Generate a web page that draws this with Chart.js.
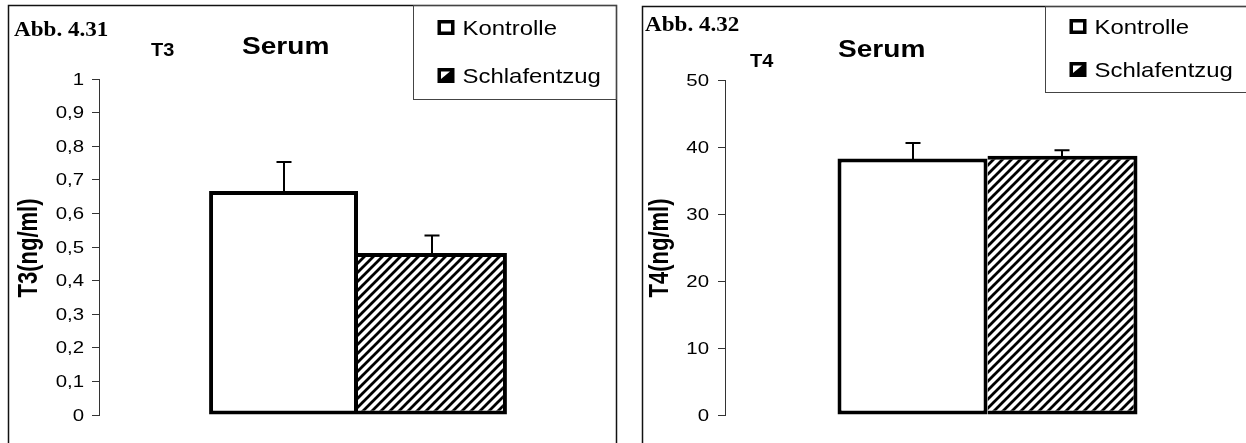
<!DOCTYPE html>
<html>
<head>
<meta charset="utf-8">
<script src="https://cdn.jsdelivr.net/npm/chart.js@4.4.1/dist/chart.umd.min.js"></script>
<style>
  html, body { margin: 0; padding: 0; background: #fff; overflow: hidden; width: 1246px; height: 443px; }
  canvas { position: absolute; top: 0; }
  #chartT3 { left: 0; }
  #chartT4 { left: 622px; }
</style>
</head>
<body>
<canvas id="chartT3" width="622" height="443"></canvas>
<canvas id="chartT4" width="630" height="443"></canvas>
<script>
// Groups compared in both panels
const groups = ['Kontrolle', 'Schlafentzug'];

// T3 in serum (ng/ml): mean and upper standard deviation per group
const t3Means = [0.667, 0.482];
const t3Sd = [0.086, 0.052];
const t3TickLabels = ['0', '0,1', '0,2', '0,3', '0,4', '0,5', '0,6', '0,7', '0,8', '0,9', '1'];

// T4 in serum (ng/ml)
const t4Means = [38.3, 38.7];
const t4Sd = [2.3, 0.8];
const t4TickLabels = ['0', '10', '20', '30', '40', '50'];

const SANS = '"Liberation Sans", Arial, sans-serif';
const SERIF = '"Liberation Serif", "Times New Roman", serif';

// Diagonal "/" hatching for the sleep-deprivation bars
function hatchPattern(ctx) {
  const s = 9;
  const c = document.createElement('canvas');
  c.width = s; c.height = s;
  const g = c.getContext('2d');
  g.fillStyle = '#fff';
  g.fillRect(0, 0, s, s);
  g.strokeStyle = '#000';
  g.lineWidth = 2.8;
  g.beginPath();
  g.moveTo(-2, s + 2); g.lineTo(s + 2, -2);
  g.moveTo(-2, 2); g.lineTo(2, -2);
  g.moveTo(s - 2, s + 2); g.lineTo(s + 2, s - 2);
  g.stroke();
  return ctx.createPattern(c, 'repeat');
}

// Text drawn with a horizontal stretch factor
function drawText(ctx, str, x, y, font, sx, align, baseline) {
  ctx.save();
  ctx.font = font;
  ctx.fillStyle = '#000';
  ctx.textAlign = align || 'left';
  ctx.textBaseline = baseline || 'alphabetic';
  ctx.translate(x, y);
  ctx.scale(sx, 1);
  ctx.fillText(str, 0, 0);
  ctx.restore();
}

// Upper error whiskers, read from each dataset's sd array
const errorBarPlugin = {
  id: 'errorBars',
  afterDatasetsDraw(chart) {
    const ctx = chart.ctx;
    const yScale = chart.scales.y;
    ctx.save();
    ctx.strokeStyle = '#000';
    ctx.lineWidth = 2;
    chart.data.datasets.forEach((ds, i) => {
      const meta = chart.getDatasetMeta(i);
      meta.data.forEach((bar, j) => {
        const top = yScale.getPixelForValue(ds.data[j] + ds.sd[j]);
        const x = Math.round(bar.x);
        ctx.beginPath();
        ctx.moveTo(x, bar.y + 2);
        ctx.lineTo(x, top);
        ctx.moveTo(x - 7.5, top);
        ctx.lineTo(x + 7.5, top);
        ctx.stroke();
      });
    });
    ctx.restore();
  }
};

// Frame, legend box, headings, axis title and tick labels of a panel
const panelPlugin = {
  id: 'panel',
  afterDraw(chart, args, o) {
    const ctx = chart.ctx;
    const H = chart.height;
    ctx.save();
    // outer frame
    ctx.strokeStyle = '#111';
    ctx.lineWidth = 1.5;
    ctx.beginPath();
    ctx.moveTo(o.frame.left, H + 5);
    ctx.lineTo(o.frame.left, o.frame.top);
    ctx.lineTo(o.frame.right, o.frame.top);
    ctx.lineTo(o.frame.right, H + 5);
    ctx.stroke();
    // legend box
    ctx.strokeStyle = '#444';
    ctx.lineWidth = 1;
    ctx.strokeRect(o.legend.left, o.frame.top, o.frame.right - o.legend.left, o.legend.bottom - o.frame.top);
    ctx.restore();

    // legend entries
    chart.data.datasets.forEach((ds, i) => {
      const ix = o.legend.left + 24, iy = o.legend.rows[i] - 15;
      ctx.save();
      ctx.fillStyle = '#000';
      ctx.fillRect(ix, iy, 17, 15);
      ctx.fillStyle = '#fff';
      if (i === 0) {
        ctx.fillRect(ix + 3.5, iy + 3.5, 10, 8);
      } else {
        ctx.beginPath();
        ctx.moveTo(ix + 3.5, iy + 3.5);
        ctx.lineTo(ix + 12.5, iy + 3.5);
        ctx.lineTo(ix + 3.5, iy + 11);
        ctx.closePath();
        ctx.fill();
      }
      ctx.restore();
      drawText(ctx, ds.label, o.legend.left + 49, o.legend.rows[i], '21px ' + SANS, 1.14);
    });

    // headings
    drawText(ctx, o.fig.text, o.fig.x, o.fig.y, 'bold 21px ' + SERIF, 1.1);
    drawText(ctx, o.hormone.text, o.hormone.x, o.hormone.y, 'bold 19px ' + SANS, 1.05);
    drawText(ctx, 'Serum', o.serum.x, o.serum.y, 'bold 23px ' + SANS, 1.22);

    // rotated y axis title
    ctx.save();
    ctx.translate(o.yTitle.x, o.yTitle.y);
    ctx.scale(1.22, 1);
    ctx.rotate(-Math.PI / 2);
    ctx.font = 'bold 22px ' + SANS;
    ctx.fillStyle = '#000';
    ctx.textAlign = 'center';
    ctx.textBaseline = 'middle';
    ctx.fillText(o.yTitle.text, 0, 0);
    ctx.restore();

    // y tick labels at the scale's tick positions
    const ys = chart.scales.y;
    ys.ticks.forEach((t, i) => {
      const py = ys.getPixelForTick(i);
      drawText(ctx, o.tickLabels[i], o.tickRight, py + 1, '17px ' + SANS, 1.2, 'right', 'middle');
    });
  }
};

function makeChart(id, cfg) {
  const ctx = document.getElementById(id).getContext('2d');
  return new Chart(ctx, {
    type: 'bar',
    data: {
      labels: ['Serum'],
      datasets: [
        {
          label: groups[0], data: [cfg.means[0]], sd: [cfg.sd[0]],
          backgroundColor: '#fff', borderColor: '#000',
          borderWidth: 4, borderSkipped: false
        },
        {
          label: groups[1], data: [cfg.means[1]], sd: [cfg.sd[1]],
          backgroundColor: hatchPattern(ctx), borderColor: '#000',
          borderWidth: { top: 4, left: 0, bottom: 4, right: 4 }, borderSkipped: false
        }
      ]
    },
    options: {
      responsive: false,
      animation: false,
      events: [],
      layout: { padding: cfg.padding },
      datasets: { bar: { categoryPercentage: cfg.catPct, barPercentage: 1 } },
      plugins: { legend: { display: false }, tooltip: { enabled: false }, panel: cfg.panel },
      scales: {
        x: { display: false },
        y: {
          min: 0, max: cfg.max,
          ticks: { stepSize: cfg.step, display: false },
          grid: { drawOnChartArea: false, drawTicks: true, tickLength: 7, color: '#333', lineWidth: 1 },
          border: { display: true, color: '#333', width: 1 },
          afterFit(s) { s.width = cfg.axisX - cfg.padding.left; }
        }
      }
    },
    plugins: [errorBarPlugin, panelPlugin]
  });
}

makeChart('chartT3', {
  means: t3Means, sd: t3Sd, max: 1, step: 0.1,
  padding: { left: 0, top: 79, right: 5, bottom: 28 },
  axisX: 99, catPct: 0.575,
  panel: {
    frame: { left: 8.5, top: 5.5, right: 616.5 },
    legend: { left: 413.5, bottom: 99.5, rows: [35, 83] },
    fig: { text: 'Abb. 4.31', x: 14, y: 36 },
    hormone: { text: 'T3', x: 151, y: 56 },
    serum: { x: 242, y: 54 },
    yTitle: { text: 'T3(ng/ml)', x: 30, y: 248 },
    tickLabels: t3TickLabels, tickRight: 84
  }
});

makeChart('chartT4', {
  means: t4Means, sd: t4Sd, max: 50, step: 10,
  padding: { left: 0, top: 80, right: 2, bottom: 28 },
  axisX: 103, catPct: 0.5714,
  panel: {
    frame: { left: 20.5, top: 6.5, right: 640 },
    legend: { left: 423.5, bottom: 92.5, rows: [34, 77] },
    fig: { text: 'Abb. 4.32', x: 23, y: 31 },
    hormone: { text: 'T4', x: 128, y: 67 },
    serum: { x: 216, y: 57 },
    yTitle: { text: 'T4(ng/ml)', x: 39, y: 248 },
    tickLabels: t4TickLabels, tickRight: 87
  }
});
</script>
</body>
</html>
